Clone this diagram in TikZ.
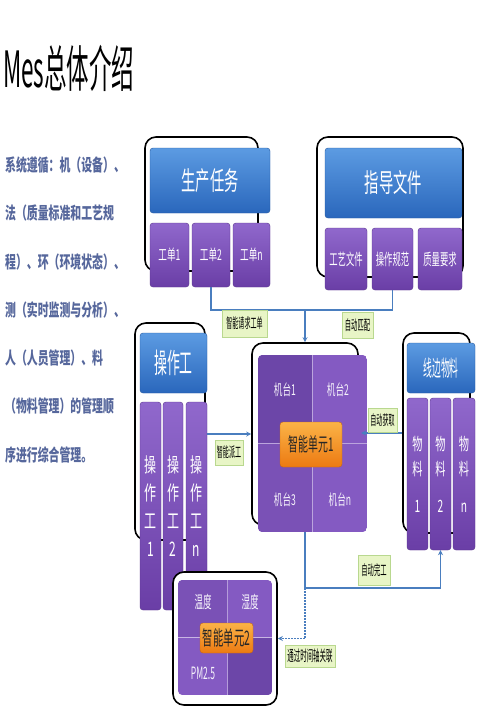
\documentclass[tikz,border=0pt]{standalone}
\usepackage{fontspec}
\setmainfont{Noto Sans CJK SC}
\usepackage{graphicx}
\usetikzlibrary{arrows.meta}

\definecolor{headtop}{HTML}{5C9BE2}
\definecolor{headbot}{HTML}{2A67BC}
\definecolor{itemtop}{HTML}{9068CC}
\definecolor{itembot}{HTML}{6A3EA6}
\definecolor{celldark}{HTML}{6C46A8}
\definecolor{celllight}{HTML}{845AC2}
\definecolor{cellmid}{HTML}{7A51B6}
\definecolor{coretop}{HTML}{FBB347}
\definecolor{corebot}{HTML}{EC7A12}
\definecolor{tagfill}{HTML}{E8F5C6}
\definecolor{tagline}{HTML}{B9D88F}
\definecolor{linkblue}{HTML}{4A7EBF}
\definecolor{introblue}{HTML}{56679C}

\newcommand{\sqz}[2]{\scalebox{#1}[1]{#2}}

\begin{document}
\begin{tikzpicture}[x=1pt,y=-1pt,
  outline/.style={draw=black,line width=1.6pt,rounded corners=11pt,inner sep=0pt},
  headbox/.style={rounded corners=3pt,top color=headtop,bottom color=headbot,draw=headbot!85!black,line width=0.4pt,text=white,inner sep=0pt},
  itembox/.style={rounded corners=3pt,top color=itemtop,bottom color=itembot,draw=itembot!85!black,line width=0.4pt,text=white,inner sep=0pt},
  corebox/.style={rounded corners=3pt,top color=coretop,bottom color=corebot,draw=corebot!85!black,line width=0.4pt,text=black!85,inner sep=0pt},
  celltext/.style={text=white!92!itemtop,inner sep=0pt},
  tagbox/.style={fill=tagfill,draw=tagline,line width=0.6pt,inner sep=0pt,font=\fontsize{14}{16}\selectfont},
  introtext/.style={text=introblue,inner sep=0pt,font=\fontsize{17}{19}\selectfont\bfseries},
  wire/.style={draw=linkblue,line width=1.3pt},
  link/.style={wire,-{Stealth[length=5pt,width=5pt]}},
]
\fill[white] (0,0) rectangle (499,706);
\useasboundingbox (0,0) rectangle (499,706);

% title and intro text
\node[anchor=west,inner sep=0pt,font=\fontsize{50}{54}\selectfont] (title) at (3,68) {\sqz{0.45}{Mes总体介绍}};
\foreach \txt [count=\i] in {系统遵循：机（设备）、,法（质量标准和工艺规,程）、环（环境状态）、,测（实时监测与分析）、,人（人员管理）、料,（物料管理）的管理顺,序进行综合管理。}
  \node[introtext,anchor=west] (intro\i) at (5,{165+48.3*(\i-1)}) {\sqz{0.64}{\txt}};

% outlines
\node[outline,minimum width=113,minimum height=134] (o1) at (201.5,204) {};
\node[outline,minimum width=146,minimum height=140] (o2) at (390,207) {};
\node[outline,minimum width=106,minimum height=182] (o3) at (305,434) {};
\node[outline,minimum width=70,minimum height=217] (o4) at (170,431.5) {};
\node[outline,minimum width=67,minimum height=200] (o5) at (436.5,433) {};

% production tasks
\node[headbox,minimum width=120,minimum height=65,font=\fontsize{26}{28}\selectfont] (task) at (210,180.5) {\sqz{0.55}{生产任务}};
\node[itembox,minimum width=39,minimum height=64,font=\fontsize{15}{17}\selectfont] (wo1) at (169.5,255) {\sqz{0.575}{工单1}};
\node[itembox,minimum width=38,minimum height=64,font=\fontsize{15}{17}\selectfont] (wo2) at (211,255) {\sqz{0.575}{工单2}};
\node[itembox,minimum width=37,minimum height=64,font=\fontsize{15}{17}\selectfont] (won) at (251.5,255) {\sqz{0.575}{工单n}};

% guide documents
\node[headbox,minimum width=137,minimum height=70,font=\fontsize{26}{28}\selectfont] (guide) at (393.5,183) {\sqz{0.55}{指导文件}};
\node[itembox,minimum width=42,minimum height=62,font=\fontsize{16}{18}\selectfont] (doc1) at (346,259) {\sqz{0.52}{工艺文件}};
\node[itembox,minimum width=41,minimum height=62,font=\fontsize{16}{18}\selectfont] (doc2) at (392.5,259) {\sqz{0.52}{操作规范}};
\node[itembox,minimum width=44,minimum height=62,font=\fontsize{16}{18}\selectfont] (doc3) at (440,259) {\sqz{0.52}{质量要求}};

% operators
\node[headbox,minimum width=67,minimum height=60,font=\fontsize{28}{30}\selectfont] (op) at (173.5,363) {\sqz{0.46}{操作工}};
\node[itembox,minimum width=21,minimum height=208,align=center,font=\fontsize{20}{28}\selectfont] (op1) at (150.5,506) {\sqz{.6}{操}\\\sqz{.6}{作}\\\sqz{.6}{工}\\\sqz{.6}{1}};
\node[itembox,minimum width=20,minimum height=208,align=center,font=\fontsize{20}{28}\selectfont] (op2) at (173,506) {\sqz{.6}{操}\\\sqz{.6}{作}\\\sqz{.6}{工}\\\sqz{.6}{2}};
\node[itembox,minimum width=21,minimum height=208,align=center,font=\fontsize{20}{28}\selectfont] (opn) at (196.5,506) {\sqz{.6}{操}\\\sqz{.6}{作}\\\sqz{.6}{工}\\\sqz{.6}{n}};

% line-side materials
\node[headbox,minimum width=68,minimum height=50,font=\fontsize{22}{24}\selectfont] (mat) at (441,368) {\sqz{0.4}{线边物料}};
\node[itembox,minimum width=21,minimum height=152,align=center,font=\fontsize{17}{25}\selectfont] (m1) at (417.5,474) {\sqz{.6}{物}\\\sqz{.6}{料}\\[12pt]\sqz{.6}{1}};
\node[itembox,minimum width=21,minimum height=152,align=center,font=\fontsize{17}{25}\selectfont] (m2) at (440.5,474) {\sqz{.6}{物}\\\sqz{.6}{料}\\[12pt]\sqz{.6}{2}};
\node[itembox,minimum width=22,minimum height=152,align=center,font=\fontsize{17}{25}\selectfont] (mn) at (464,474) {\sqz{.6}{物}\\\sqz{.6}{料}\\[12pt]\sqz{.6}{n}};

% smart unit 1
\node[inner sep=0pt,minimum width=109,minimum height=177] (unit1) at (312.5,443.5) {};
\begin{scope}
  \clip[rounded corners=5pt] (unit1.north west) rectangle (unit1.south east);
  \fill[celllight] (unit1.north west) rectangle (unit1.south east);
  \fill[celldark] (unit1.north west) rectangle (unit1.center);
  \fill[cellmid] (unit1.west) rectangle (unit1.south);
  \draw[white!45!celllight,line width=0.8pt] (unit1.north) -- (unit1.south) (unit1.west) -- (unit1.east);
\end{scope}
\node[celltext,font=\fontsize{15}{17}\selectfont] (mc1) at (285,390) {\sqz{0.575}{机台1}};
\node[celltext,font=\fontsize{15}{17}\selectfont] (mc2) at (338,390) {\sqz{0.575}{机台2}};
\node[celltext,font=\fontsize{15}{17}\selectfont] (mc3) at (285,500) {\sqz{0.575}{机台3}};
\node[celltext,font=\fontsize{15}{17}\selectfont] (mcn) at (340,500) {\sqz{0.575}{机台n}};
\node[corebox,minimum width=62,minimum height=45,font=\fontsize{19}{21}\selectfont] (core1) at (311,444.5) {\sqz{0.52}{智能单元1}};

% smart unit 2
\node[outline,fill=white,minimum width=104,minimum height=133] (o6) at (225,638.5) {};
\node[inner sep=0pt,minimum width=94,minimum height=115] (unit2) at (225,637.5) {};
\begin{scope}
  \clip[rounded corners=5pt] (unit2.north west) rectangle (unit2.south east);
  \fill[celllight] (unit2.north west) rectangle (unit2.south east);
  \fill[cellmid] (unit2.north west) rectangle (227,638);
  \fill[celldark] (227,638) rectangle (unit2.south east);
  \draw[white!55!celllight,line width=1pt] (unit2.west) -- (unit2.east);
  \draw[white!40!celllight,line width=0.6pt] (227,580) -- (227,695);
\end{scope}
\node[celltext,font=\fontsize{17}{19}\selectfont] (temp) at (203,602) {\sqz{0.5}{温度}};
\node[celltext,font=\fontsize{17}{19}\selectfont] (humi) at (250,602) {\sqz{0.5}{湿度}};
\node[celltext,font=\fontsize{17}{19}\selectfont] (pm) at (203,673) {\sqz{0.5}{PM2.5}};
\node[corebox,minimum width=53,minimum height=30,font=\fontsize{20}{22}\selectfont] (core2) at (226.5,638) {\sqz{0.52}{智能单元2}};

% connectors
\coordinate (jreq) at (305,310);
\coordinate (jdone) at (305,588);
\draw[wire] (wo2.south) |- (jreq);
\draw[wire] (doc2.south) |- (jreq);
\draw[link] (jreq) -- (o3.north);
\draw[link] (opn.east |- o3.west) -- (o3.west);
\draw[link] (o5.west) -- ([xshift=-6pt]unit1.east |- o5.west);
\draw[link] (o3.south |- unit1.south) -- (jdone) -| (m2.south);
\draw[link,dash pattern=on 1.5pt off 1.5pt] (jdone) |- (o6.east);

% connector tags
\node[tagbox,minimum width=45,minimum height=27] (treq) at (244.5,323.5) {\sqz{0.43}{智能请求工单}};
\node[tagbox,minimum width=31,minimum height=26] (tmatch) at (357.5,325) {\sqz{0.45}{自动匹配}};
\node[tagbox,minimum width=28,minimum height=25] (tdisp) at (229,452.5) {\sqz{0.43}{智能派工}};
\node[tagbox,minimum width=29,minimum height=24] (tfetch) at (382.5,420) {\sqz{0.43}{自动获取}};
\node[tagbox,minimum width=32,minimum height=30] (tdone) at (374,570) {\sqz{0.45}{自动完工}};
\node[tagbox,minimum width=50,minimum height=22,font=\fontsize{15}{17}\selectfont] (ttime) at (310,656) {\sqz{0.43}{通过时间轴关联}};
\end{tikzpicture}
\end{document}
